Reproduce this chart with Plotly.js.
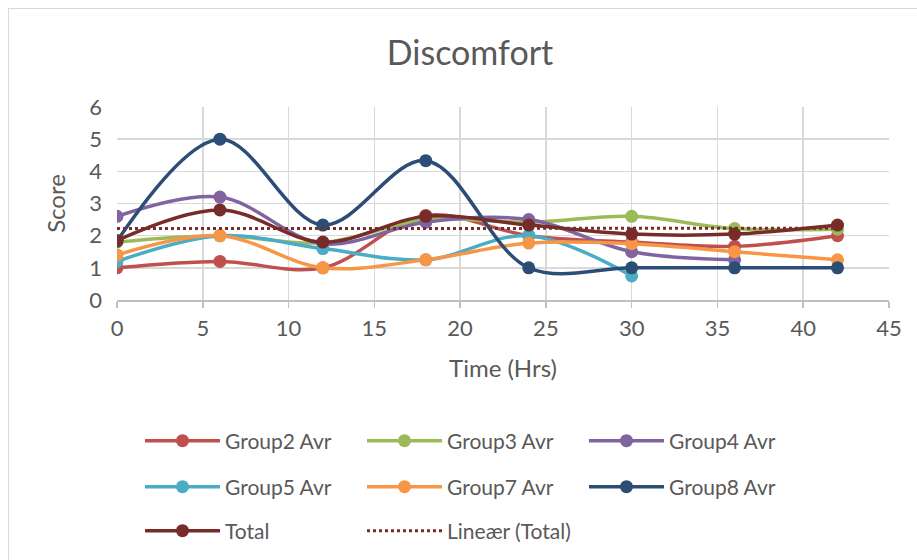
<!DOCTYPE html>
<html>
<head>
<meta charset="utf-8">
<script src="https://cdn.plot.ly/plotly-3.0.1.min.js"></script>
<style>
  html, body { margin: 0; padding: 0; background: #ffffff; }
  #wrap { position: relative; width: 917px; height: 560px; overflow: hidden; }
  #chart { position: absolute; left: 0; top: 0; width: 917px; height: 560px; }
  #frame { position: absolute; left: 8px; top: 8px; width: 940px; height: 600px;
           border: 1.5px solid #d9d9d9; pointer-events: none; }
</style>
</head>
<body>
<div id="wrap">
  <div id="chart"></div>
  <div id="frame"></div>
</div>
<script>
// ---- data ----
const timeHrs   = [0, 6, 12, 18, 24, 30, 36, 42];
const group2Avr = [1.0, 1.2, 1.0, 2.63, 2.0, 1.8, 1.67, 2.0];
const group3Avr = [1.8, 2.0, 1.78, 2.5, 2.42, 2.6, 2.22, 2.2];
const group4Avr = [2.6, 3.2, 1.75, 2.42, 2.5, 1.5, 1.25];
const group5Avr = [1.2, 2.0, 1.6, 1.25, 2.0, 0.75];
const group7Avr = [1.4, 2.0, 1.0, 1.25, 1.77, 1.75, 1.5, 1.25];
const group8Avr = [1.83, 5.0, 2.33, 4.33, 1.0, 1.0, 1.0, 1.0];
const totalAvr  = [1.85, 2.8, 1.8, 2.6, 2.33, 2.05, 2.05, 2.33];
const seriesNames = ["Group2 Avr", "Group3 Avr", "Group4 Avr", "Group5 Avr",
                     "Group7 Avr", "Group8 Avr", "Total", "Lineær (Total)"];
const xTicks = [0, 5, 10, 15, 20, 25, 30, 35, 40, 45];
const yTicks = [0, 1, 2, 3, 4, 5, 6];

// linear trendline of Total (least squares), as the spreadsheet does
function linearFit(xs, ys) {
  const n = xs.length;
  const mx = xs.reduce((a, b) => a + b, 0) / n;
  const my = ys.reduce((a, b) => a + b, 0) / n;
  let sxy = 0, sxx = 0;
  for (let i = 0; i < n; i++) { sxy += (xs[i] - mx) * (ys[i] - my); sxx += (xs[i] - mx) ** 2; }
  const b = sxy / sxx, a = my - b * mx;
  return xs.map(x => a + b * x);
}
const trendY = linearFit(timeHrs, totalAvr);

const colors = ["#C0504D", "#9BBB59", "#8064A2", "#4BACC6", "#F79646", "#2C4D75", "#772C2A"];
const legendIds = ["legend", "legend", "legend", "legend2", "legend2", "legend2", "legend3", "legend3"];

const groups = [group2Avr, group3Avr, group4Avr, group5Avr, group7Avr, group8Avr, totalAvr];
const traces = groups.map((ys, i) => ({
  type: "scatter",
  mode: "lines+markers",
  name: seriesNames[i],
  x: timeHrs.slice(0, ys.length),
  y: ys,
  line: { color: colors[i], width: 3.5, shape: "spline", smoothing: 1 },
  marker: { color: colors[i], size: 13 },
  legend: legendIds[i],
  hoverinfo: "skip"
}));
traces.push({
  type: "scatter",
  mode: "lines",
  name: seriesNames[7],
  x: timeHrs,
  y: trendY,
  line: { color: "#772C2A", width: 3, dash: "dot" },
  legend: legendIds[7],
  hoverinfo: "skip"
});

const font = { family: "Lato, 'Open Sans', sans-serif", color: "#595959" };
function legendAt(yPx) {
  return {
    orientation: "h",
    xref: "container", yref: "container",
    x: 140 / 917, y: 1 - yPx / 560,
    xanchor: "left", yanchor: "middle",
    entrywidth: 132, entrywidthmode: "pixels",
    itemwidth: 75,
    bgcolor: "rgba(0,0,0,0)",
    font: { family: font.family, color: font.color, size: 21 },
    itemclick: false, itemdoubleclick: false
  };
}

const layout = {
  width: 917, height: 560,
  paper_bgcolor: "rgba(0,0,0,0)",
  plot_bgcolor: "#ffffff",
  margin: { l: 117, r: 27.5, t: 106.7, b: 260, pad: 0 },
  title: {
    text: "Discomfort",
    font: { family: font.family, color: font.color, size: 34 },
    x: 470 / 917, xref: "container", xanchor: "center",
    y: 1 - 53 / 560, yref: "container", yanchor: "middle"
  },
  xaxis: {
    range: [0, 45],
    tickvals: xTicks,
    ticktext: xTicks.map(String),
    showgrid: true, gridcolor: "#d9d9d9", gridwidth: 1.5,
    zeroline: false,
    showline: true, linecolor: "#bfbfbf", linewidth: 1.5,
    ticks: "outside", ticklen: 6, tickcolor: "#bfbfbf", tickwidth: 1.5,
    ticklabelstandoff: 2,
    tickfont: { family: font.family, color: font.color, size: 22 },
    title: { text: "Time (Hrs)", font: { family: font.family, color: font.color, size: 24 }, standoff: 20 }
  },
  yaxis: {
    range: [0, 6],
    tickvals: yTicks,
    ticktext: yTicks.map(String),
    showgrid: true, gridcolor: "#d9d9d9", gridwidth: 1.5,
    zeroline: false, showline: false, ticks: "",
    ticklabelstandoff: 14,
    tickfont: { family: font.family, color: font.color, size: 22 },
    title: { text: "Score", font: { family: font.family, color: font.color, size: 24 }, standoff: 16 }
  },
  legend: legendAt(441),
  legend2: legendAt(487),
  legend3: legendAt(531),
  showlegend: true
};

Plotly.newPlot("chart", traces, layout, { displayModeBar: false, staticPlot: true });
</script>
</body>
</html>
